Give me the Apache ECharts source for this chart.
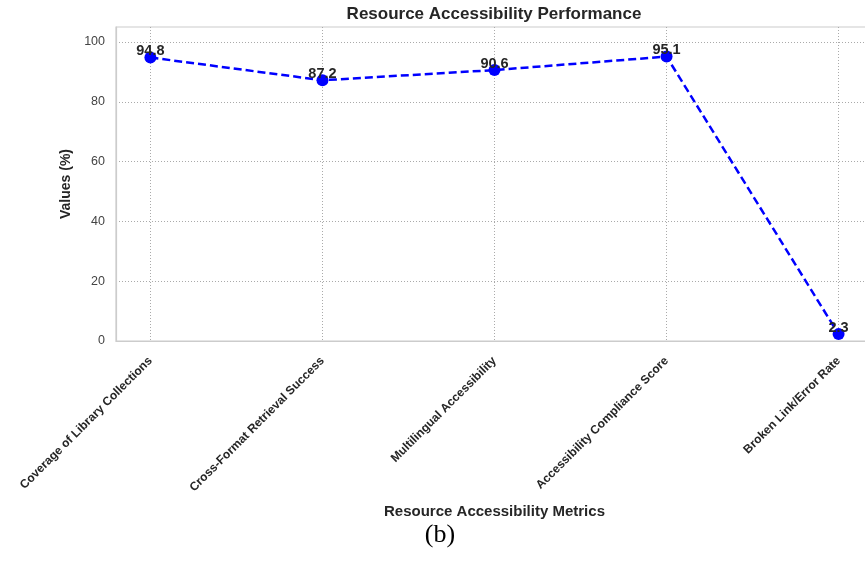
<!DOCTYPE html>
<html>
<head>
<meta charset="utf-8">
<script src="https://cdn.jsdelivr.net/npm/echarts@6/dist/echarts.min.js"></script>
<style>
  html, body { margin: 0; padding: 0; background: #ffffff; overflow: hidden; }
  #chart { width: 880px; height: 561px; }
</style>
</head>
<body>
<div id="chart"></div>
<script>
// Resource accessibility metrics and their measured percentages
const categories = [
  'Coverage of Library Collections',
  'Cross-Format Retrieval Success',
  'Multilingual Accessibility',
  'Accessibility Compliance Score',
  'Broken Link/Error Rate'
];
const values = [94.8, 87.2, 90.6, 95.1, 2.3];
const yTicks = [0, 20, 40, 60, 80, 100];

const positions = categories.map((_, i) => i);
const points = values.map((v, i) => [i, v]);

const chart = echarts.init(document.getElementById('chart'), null, { renderer: 'canvas' });

const font = '"Liberation Sans", Arial, Helvetica, sans-serif';
const gridLine = { show: true, lineStyle: { color: '#aaaaaa', width: 1, type: [1, 2] } };

chart.setOption({
  animation: false,
  backgroundColor: '#ffffff',
  textStyle: { fontFamily: font },
  grid: {
    left: 116, right: 7, top: 27, bottom: 220,
    show: true, borderColor: '#cccccc', borderWidth: 1.2,
    containLabel: false
  },
  xAxis: {
    type: 'value',
    min: -0.2, max: 4.2,
    name: 'Resource Accessibility Metrics',
    nameLocation: 'middle',
    nameGap: 163,
    nameTextStyle: { fontFamily: font, fontWeight: 'bold', fontSize: 15, color: '#262626' },
    axisLine: { show: true, onZero: false, lineStyle: { color: '#cccccc', width: 1.2 } },
    axisTick: { show: false, customValues: positions },
    axisLabel: {
      customValues: positions,
      rotate: 45,
      margin: 18,
      fontFamily: font, fontWeight: 'bold', fontSize: 12, color: '#262626',
      formatter: (v) => categories[Math.round(v)]
    },
    splitLine: gridLine
  },
  yAxis: {
    type: 'value',
    min: 0, max: 105,
    name: 'Values (%)',
    nameLocation: 'middle',
    nameGap: 40,
    nameTextStyle: { fontFamily: font, fontWeight: 'bold', fontSize: 14, color: '#262626' },
    axisLine: { show: true, onZero: false, lineStyle: { color: '#cccccc', width: 1.2 } },
    axisTick: { show: false, customValues: yTicks },
    axisLabel: { customValues: yTicks, margin: 11, fontFamily: font, fontSize: 12.5, color: '#444444' },
    splitLine: gridLine
  },
  series: [{
    type: 'line',
    data: points,
    symbol: 'circle',
    symbolSize: 12,
    itemStyle: { color: '#0000ff' },
    lineStyle: { color: '#0000ff', width: 2.5, type: [8, 4] },
    label: {
      show: true,
      position: 'top',
      distance: -7,
      fontFamily: font, fontWeight: 'bold', fontSize: 14.5, color: '#262626',
      formatter: (p) => p.value[1].toFixed(1)
    },
    z: 5
  }],
  graphic: [
    {
      type: 'text', x: 494, y: 6,
      style: {
        text: 'Resource Accessibility Performance',
        font: 'bold 17px ' + font, fill: '#262626', textAlign: 'center'
      }
    },
    {
      type: 'text', x: 440, y: 522,
      style: {
        text: '(b)',
        font: '26px "Liberation Serif", "Times New Roman", serif', fill: '#000000', textAlign: 'center'
      }
    }
  ]
});
</script>
</body>
</html>
